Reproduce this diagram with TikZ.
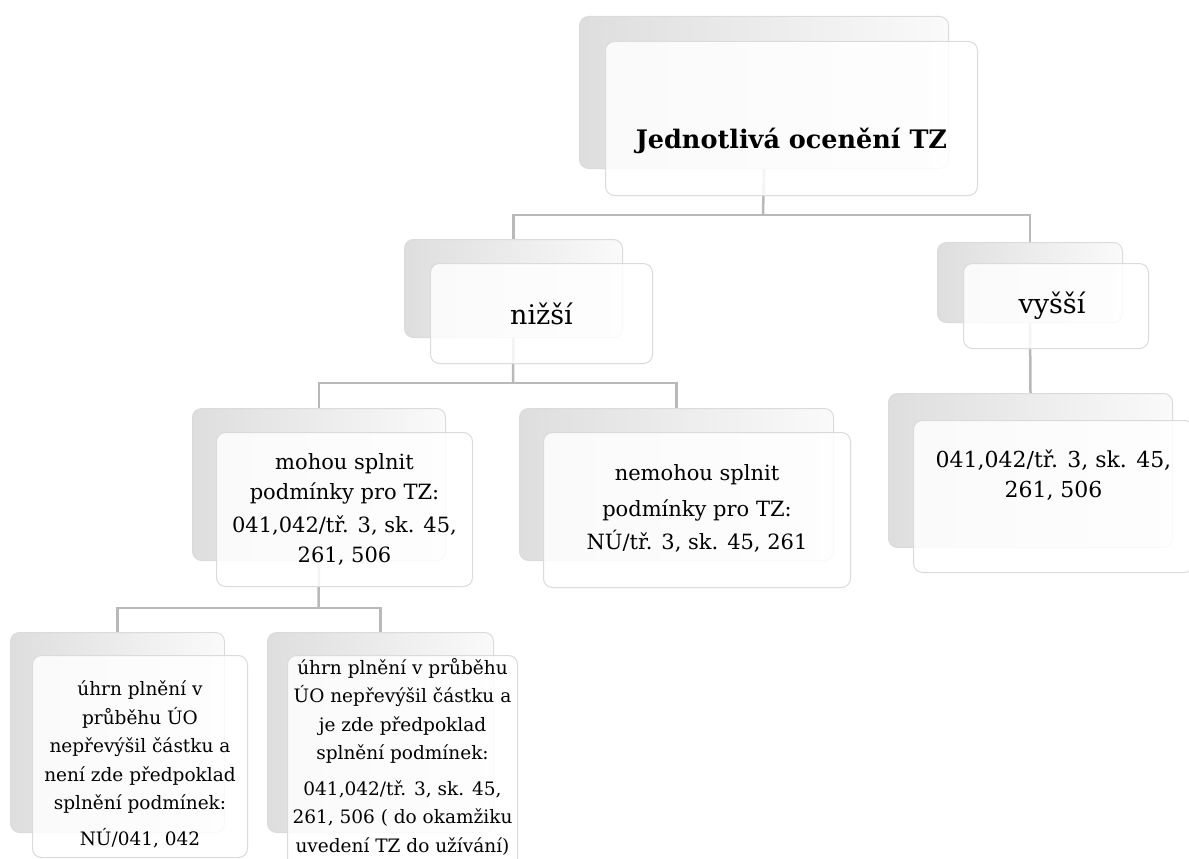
\documentclass[tikz,border=0pt]{standalone}
\usepackage{fontspec}
\setmainfont{DejaVu Serif}
\usetikzlibrary{backgrounds}

\begin{document}
\begin{tikzpicture}[x=1pt, y=-1pt,
	tab/.style = {draw = gray!28, line width = 1pt,
				  left color = gray!26, right color = gray!4,
				  rounded corners = 9pt, anchor = north west,
				  inner sep = 0pt},
	card/.style = {draw = gray!28, line width = 1pt,
				   fill = white, fill opacity = 0.85,
				   rounded corners = 9pt, anchor = north west,
				   inner sep = 0pt},
	txt/.style = {align = center, inner sep = 0pt,
				  font = \fontsize{21}{30}\selectfont},
	smalltxt/.style = {align = center, inner sep = 0pt,
				  font = \fontsize{18.5}{28.5}\selectfont},
	conn/.style = {draw = gray!55, line width = 2.5pt}
	]
	\useasboundingbox (0, 0) rectangle (1189, 859);

	% back tabs
	\draw (579, 16) node[tab, minimum width = 369pt, minimum height = 152pt](topb){};
	\draw (404, 239) node[tab, minimum width = 218pt, minimum height = 98pt](nizb){};
	\draw (937, 242) node[tab, minimum width = 185pt, minimum height = 80pt](vysb){};
	\draw (192, 408) node[tab, minimum width = 253pt, minimum height = 152pt](mohb){};
	\draw (519, 408) node[tab, minimum width = 314pt, minimum height = 152pt](nemb){};
	\draw (888, 393) node[tab, minimum width = 284pt, minimum height = 154pt](vysdb){};
	\draw (10, 632) node[tab, minimum width = 214pt, minimum height = 200pt](unb){};
	\draw (267, 632) node[tab, minimum width = 226pt, minimum height = 200pt](ujb){};

	% front cards
	\draw (605, 41) node[card, minimum width = 372pt, minimum height = 154pt](topf){};
	\draw (430, 263) node[card, minimum width = 222pt, minimum height = 100pt](nizf){};
	\draw (963, 263) node[card, minimum width = 185pt, minimum height = 85pt](vysf){};
	\draw (216, 432) node[card, minimum width = 256pt, minimum height = 154pt](mohf){};
	\draw (543, 432) node[card, minimum width = 307pt, minimum height = 155pt](nemf){};
	\draw (913, 420) node[card, minimum width = 280pt, minimum height = 152pt](vysdf){};
	\draw (32, 655) node[card, minimum width = 215pt, minimum height = 202pt](unf){};
	\draw (287, 655) node[card, minimum width = 230pt, minimum height = 212pt](ujf){};

	% texts
	\node[txt, font = \fontsize{25.5}{30}\selectfont\bfseries]
		(toptext) at ([yshift = -22pt]topf.center) {Jednotlivá ocenění TZ};
	\node[txt, font = \fontsize{27}{30}\selectfont]
		(niztext) at (nizf.center) {nižší};
	\node[txt, font = \fontsize{27}{30}\selectfont]
		(vystext) at ([xshift = -4pt]vysf.center) {vyšší};
	\node[txt] (mohtext) at (mohf.center)
		{mohou splnit\\ podmínky pro TZ:\\[3pt] 041,042/tř. 3, sk. 45,\\ 261, 506};
	\node[txt] (nemtext) at ([yshift = 2pt]nemf.center)
		{nemohou splnit\\[6pt] podmínky pro TZ:\\[3pt] NÚ/tř. 3, sk. 45, 261};
	\node[txt, font = \fontsize{22}{30}\selectfont]
		(vysdtext) at ([yshift = 21pt]vysdf.center)
		{041,042/tř. 3, sk. 45,\\ 261, 506};
	\node[smalltxt] (untext) at ([yshift = -8pt]unf.center)
		{úhrn plnění v\\ průběhu ÚO\\ nepřevýšil částku a\\ není zde předpoklad\\ splnění podmínek:\\[7pt] NÚ/041, 042};
	\node[smalltxt] (ujtext) at ([yshift = 5pt]ujf.center)
		{úhrn plnění v průběhu\\ ÚO nepřevýšil částku a\\ je zde předpoklad\\ splnění podmínek:\\[7pt] 041,042/tř. 3, sk. 45,\\ 261, 506 ( do okamžiku\\ uvedení TZ do užívání)};

	% connectors
	\coordinate (bus1) at (763, 215);
	\coordinate (bus2) at (513, 383);
	\coordinate (bus3) at (318.5, 608);
	\begin{pgfonlayer}{background}
		\draw[conn] (topb.south) -- (bus1);
		\draw[conn] (bus1) -| (nizb.north);
		\draw[conn] (bus1) -| (vysb.north);

		\draw[conn] (nizb.south) -- (bus2);
		\draw[conn] (bus2) -| (mohb.north);
		\draw[conn] (bus2) -| (nemb.north);

		\draw[conn] (vysb.south) -- (vysdb.north);

		\draw[conn] (mohb.south) -- (bus3);
		\draw[conn] (bus3) -| (unb.north);
		\draw[conn] (bus3) -| (ujb.north);
	\end{pgfonlayer}
\end{tikzpicture}
\end{document}
